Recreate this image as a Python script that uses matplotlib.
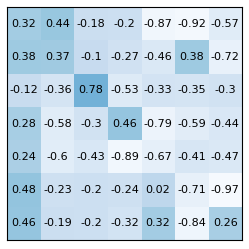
import numpy as np
import matplotlib
matplotlib.use("Agg")
import matplotlib.pyplot as plt

# ================= data =================
ROW_1 = [0.32, 0.44, -0.18, -0.2, -0.87, -0.92, -0.57]
ROW_2 = [0.38, 0.37, -0.1, -0.27, -0.46, 0.38, -0.72]
ROW_3 = [-0.12, -0.36, 0.78, -0.53, -0.33, -0.35, -0.3]
ROW_4 = [0.28, -0.58, -0.3, 0.46, -0.79, -0.59, -0.44]
ROW_5 = [0.24, -0.6, -0.43, -0.89, -0.67, -0.41, -0.47]
ROW_6 = [0.48, -0.23, -0.2, -0.24, 0.02, -0.71, -0.97]
ROW_7 = [0.46, -0.19, -0.2, -0.32, 0.32, -0.84, 0.26]
# =======================================

corr = np.array([ROW_1, ROW_2, ROW_3, ROW_4, ROW_5, ROW_6, ROW_7])

fig = plt.figure(figsize=(2.49, 2.49), dpi=100)
ax = fig.add_axes([7 / 249, 9 / 249, 235 / 249, 233 / 249])
ax.imshow(corr, cmap="Blues", vmin=-1, vmax=2.7, aspect="auto")

for i in range(corr.shape[0]):
    for j in range(corr.shape[1]):
        ax.text(j, i, f"{corr[i, j]:g}", ha="center", va="center",
                fontsize=8, color="black")

ax.set_xticks([])
ax.set_yticks([])
fig.savefig("out.png", dpi=100)
